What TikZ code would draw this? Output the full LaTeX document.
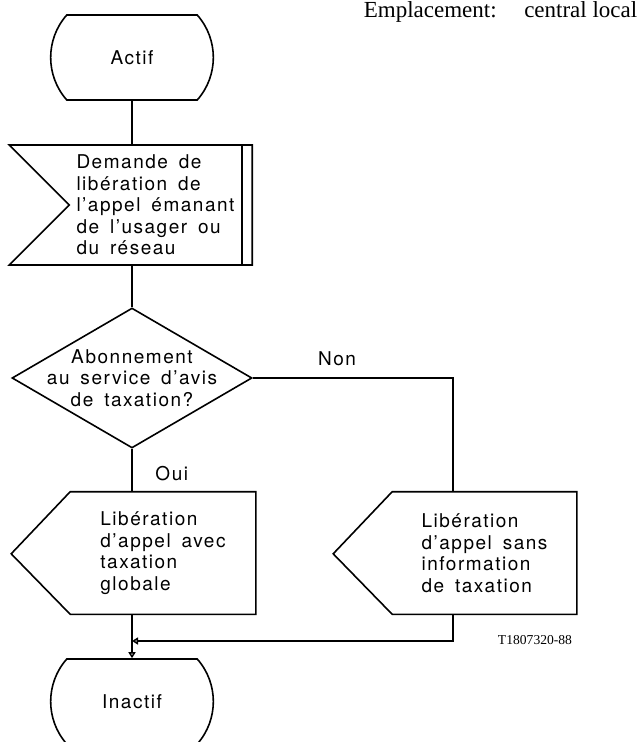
\documentclass[tikz,border=0pt]{standalone}
\usepackage{fontspec}
\setmainfont{Liberation Serif}
\newfontfamily\sdlfont[LetterSpace=8,WordSpace=1.6]{TeX Gyre Heros}
\newfontfamily\lieufont{Liberation Serif}
\usetikzlibrary{shapes.geometric,shapes.misc,arrows.meta}

\begin{document}
\begin{tikzpicture}[
    x=0.5pt, y=-0.5pt,
    line width=0.8pt,
    every node/.style={font=\sdlfont\fontsize{9.5}{10.75}\selectfont},
    state/.style={rounded rectangle, draw, rounded rectangle arc length=83, minimum width=88pt, minimum height=42.5pt},
    body/.style={rectangle, align=left, minimum height=60.5pt, inner sep=0pt},
    decision/.style={diamond, draw, minimum width=120pt, minimum height=70pt, inner sep=0pt},
    flow/.style={-{Triangle[open, length=3pt, width=3.5pt]}}
]
    \useasboundingbox (0,0) rectangle (639,742);

    \node[font=\lieufont\fontsize{11.5}{13}\selectfont, anchor=west, inner sep=0pt] (lieu) at (363,12) {Emplacement:\hspace{1.2em}central local};

    \node[state] (actif) at (132,57.5) {Actif};

    % signal d'entree
    \node[body, minimum width=85.5pt, minimum height=60pt] (demande) at (155.5,205) {Demande de\\lib\'eration de\\l’appel \'emanant\\de l’usager ou\\du r\'eseau};
    \draw (demande.west) -- ++(-60,-60) -- ++(243,0) -- ++(0,120) -- ++(-243,0) -- cycle;
    \draw (demande.north east) -- (demande.south east);

    \node[decision, label={[align=center]center:Abonnement\\au service d’avis\\de taxation?}] (abo) at (132,378) {};

    % signaux de sortie
    \node[body, minimum width=92pt] (avec) at (163,553) {Lib\'eration\\d’appel avec\\taxation\\globale};
    \draw (avec.north west) -- (avec.north east) -- (avec.south east) -- (avec.south west) -- ++(-59,-60.5) -- cycle;
    \node[body, minimum width=91.5pt] (sans) at (484.5,553) {Lib\'eration\\d’appel sans\\information\\de taxation};
    \draw (sans.north west) -- (sans.north east) -- (sans.south east) -- (sans.south west) -- ++(-59,-60.5) -- cycle;

    \node[state] (inactif) at (132,701.5) {Inactif};

    \node[font=\lieufont\fontsize{6.8}{8}\selectfont, inner sep=0pt] (ref) at (535,640) {T1807320-88};

    \coordinate (join) at (132,641);

    \draw (actif.south) -- (actif.south |- demande.north);
    \draw (actif.south |- demande.south) -- (abo.north);
    \draw (abo.south) -- node[pos=0.57, anchor=west, xshift=8pt] {Oui} (abo.south |- avec.north);
    \draw (abo.east) -| node[pos=0.21, above, yshift=2.5pt] {Non} ([xshift=30.5pt]sans.north west);
    \draw[flow] (abo.south |- avec.south) -- (inactif.north);
    \draw[flow] ([xshift=30.5pt]sans.south west) |- (join);
\end{tikzpicture}
\end{document}
